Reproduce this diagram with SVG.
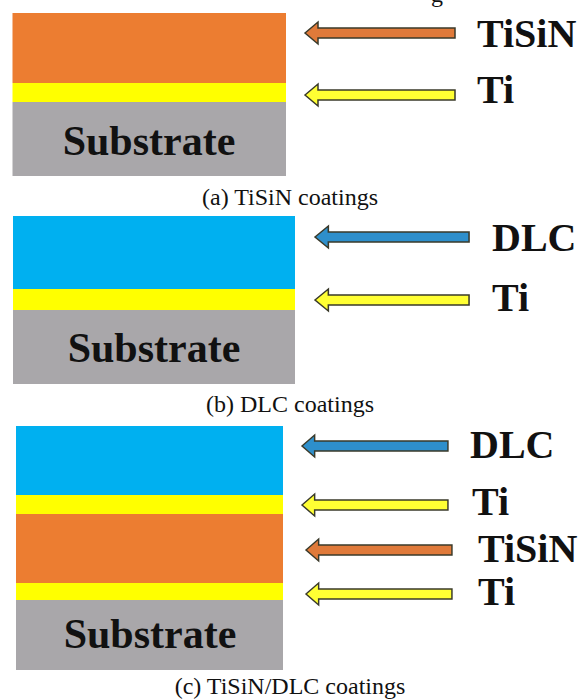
<svg xmlns="http://www.w3.org/2000/svg" width="580" height="700" viewBox="0 0 580 700">
<style>
.orange{fill:#EC7D31}
.yellow{fill:#FFFF00}
.gray{fill:#A9A7AA}
.blue{fill:#00B0F0}
text{font-family:'Liberation Serif','Times New Roman',Times,serif}
.lbl{font-weight:bold;font-size:40px;fill:#111}
.sub{font-weight:bold;font-size:42px;fill:#111;text-anchor:middle}
.cap{font-size:24px;fill:#111;text-anchor:middle}
.arr{stroke:#3a3a2a;stroke-width:1.5;stroke-linejoin:miter}
.a-or{fill:#E07A3A}
.a-ye{fill:#FFFF33}
.a-bl{fill:#2E8FCB}
</style>
<defs>
<path id="arrow" d="M0,0 L13,-11 L13,-5 L150,-5 L150,5 L13,5 L13,11 Z"/>
</defs>
<rect width="580" height="700" fill="#ffffff"/>
<text class="cap" x="437" y="2">g</text>

<g id="panel-a">
<rect class="orange" x="12.5" y="13" width="273.5" height="70"/>
<rect class="yellow" x="12.5" y="83" width="273.5" height="19"/>
<rect class="gray" x="12.5" y="102" width="273.5" height="74"/>
<text class="sub" x="149" y="155">Substrate</text>
<text class="cap" x="290" y="205">(a) TiSiN coatings</text>
</g>
<g id="label-a-tisin"><text class="lbl" x="477" y="47">TiSiN</text></g>
<g id="label-a-ti"><text class="lbl" x="477" y="103">Ti</text></g>

<g id="panel-b">
<rect class="blue" x="13" y="216" width="282" height="73"/>
<rect class="yellow" x="13" y="289" width="282" height="21"/>
<rect class="gray" x="13" y="310" width="282" height="74"/>
<text class="sub" x="154" y="362">Substrate</text>
<text class="cap" x="290" y="412">(b) DLC coatings</text>
</g>
<g id="label-b-dlc"><text class="lbl" x="492" y="251">DLC</text></g>
<g id="label-b-ti"><text class="lbl" x="492" y="311">Ti</text></g>

<g id="panel-c">
<rect class="blue" x="16" y="426" width="267" height="69"/>
<rect class="yellow" x="16" y="495" width="267" height="19"/>
<rect class="orange" x="16" y="514" width="267" height="69"/>
<rect class="yellow" x="16" y="583" width="267" height="17"/>
<rect class="gray" x="16" y="600" width="267" height="70"/>
<text class="sub" x="150" y="648">Substrate</text>
<text class="cap" x="290" y="694">(c) TiSiN/DLC coatings</text>
</g>
<g id="label-c-dlc"><text class="lbl" x="470" y="458">DLC</text></g>
<g id="label-c-ti1"><text class="lbl" x="472" y="515">Ti</text></g>
<g id="label-c-tisin"><text class="lbl" x="478" y="562">TiSiN</text></g>
<g id="label-c-ti2"><text class="lbl" x="478" y="605">Ti</text></g>

<g id="connectors">
<use href="#arrow" class="arr a-or" x="305" y="33"/>
<use href="#arrow" class="arr a-ye" x="305" y="95"/>
<use href="#arrow" class="arr a-bl" transform="translate(315,237) scale(1.027,1)"/>
<use href="#arrow" class="arr a-ye" transform="translate(315,300) scale(1.027,1)"/>
<use href="#arrow" class="arr a-bl" transform="translate(302,446) scale(0.973,1)"/>
<use href="#arrow" class="arr a-ye" transform="translate(302,505) scale(0.973,1)"/>
<use href="#arrow" class="arr a-or" transform="translate(306,550) scale(0.973,1)"/>
<use href="#arrow" class="arr a-ye" transform="translate(306,594) scale(0.973,1)"/>
</g>
</svg>
